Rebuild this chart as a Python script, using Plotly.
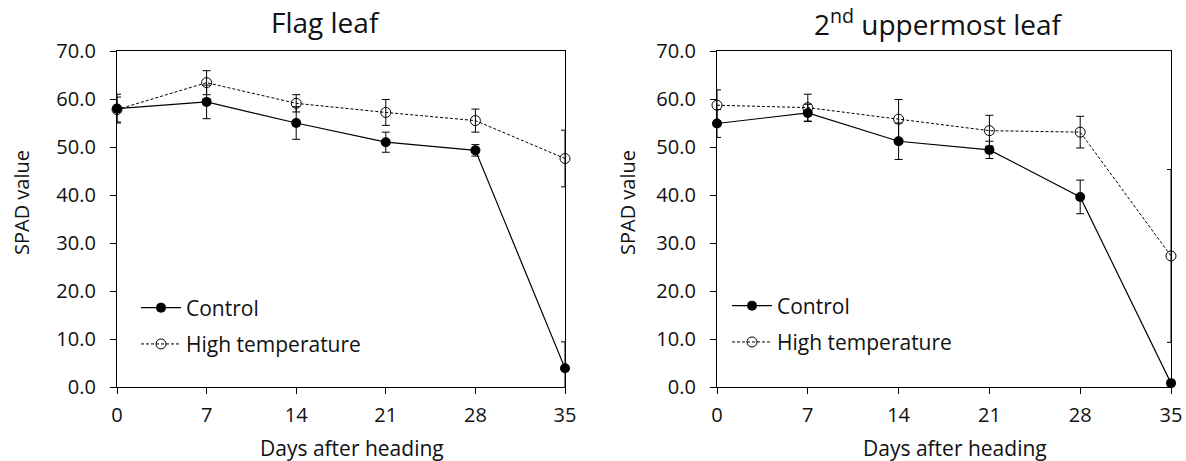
import plotly.graph_objects as go

# Sampling days after heading
days = [0, 7, 14, 21, 28, 35]
day_ticks = ["0", "7", "14", "21", "28", "35"]

# Flag leaf SPAD readings (mean and error)
flag_control = [58.0, 59.4, 55.0, 51.0, 49.3, 3.9]
flag_control_err = [3.0, 3.5, 3.4, 2.1, 1.2, 5.5]
flag_high = [57.8, 63.4, 59.1, 57.2, 55.5, 47.6]
flag_high_err = [2.6, 2.5, 1.8, 2.7, 2.4, 5.9]

# 2nd uppermost leaf SPAD readings (mean and error)
second_control = [54.9, 57.1, 51.2, 49.4, 39.6, 0.8]
second_control_err = [2.9, 1.8, 3.8, 1.8, 3.5, 0.5]
second_high = [58.7, 58.2, 55.8, 53.4, 53.1, 27.3]
second_high_err = [3.2, 2.8, 4.1, 3.2, 3.3, 18.0]

y_ticks = [0, 10, 20, 30, 40, 50, 60, 70]
titles = ["Flag leaf", "2<sup>nd</sup> uppermost leaf"]

FONT = "Open Sans"
TEXT = "#111111"
W, H = 1186, 461

fig = go.Figure()


def add_panel(xa, ya, legend, control, control_err, high, high_err):
    err_style = dict(type="data", visible=True, color="black", thickness=1, width=4)
    fig.add_trace(go.Scatter(
        x=days, y=control, name="Control", xaxis=xa, yaxis=ya, legend=legend,
        legendgroup=legend + "c", mode="lines+markers", cliponaxis=False,
        line=dict(color="black", width=1.2),
        marker=dict(symbol="circle", size=10, color="black"),
        error_y=dict(array=control_err, **err_style),
    ))
    fig.add_trace(go.Scatter(
        x=days, y=high, name="High temperature", xaxis=xa, yaxis=ya, legend=legend,
        legendgroup=legend + "h", mode="lines+markers", cliponaxis=False,
        line=dict(color="black", width=1, dash="3px,2px"),
        marker=dict(symbol="circle-open", size=10, color="black", line=dict(width=1)),
        error_y=dict(array=high_err, **err_style),
    ))


add_panel("x", "y", "legend", flag_control, flag_control_err, flag_high, flag_high_err)
add_panel("x2", "y2", "legend2", second_control, second_control_err, second_high, second_high_err)

plot_top, plot_bottom = 51, 387
ydom = [(H - plot_bottom) / H, (H - plot_top) / H]
panels = [(117, 565), (717, 1171)]

xcommon = dict(range=[0, 35], tickvals=days, ticktext=day_ticks, showgrid=False,
               zeroline=False, showline=True, linecolor="black", linewidth=1.2,
               mirror=True, ticks="outside", ticklen=6, tickcolor="black",
               tickwidth=1.2, ticklabelstandoff=4, automargin=False,
               tickfont=dict(family=FONT, size=20, color=TEXT))
ycommon = dict(range=[0, 70], tickvals=y_ticks, tickformat=".1f", showgrid=False,
               zeroline=False, showline=True, linecolor="black", linewidth=1.2,
               mirror=True, ticks="outside", ticklen=6, tickcolor="black",
               tickwidth=1.2, ticklabelstandoff=10, automargin=False,
               tickfont=dict(family=FONT, size=20, color=TEXT))
inner_ticks = dict(range=[0, 35], tickvals=days, showticklabels=False, ticks="inside",
                   ticklen=6, tickcolor="black", tickwidth=1.2, showgrid=False,
                   zeroline=False, showline=False, automargin=False)

layout = dict(
    width=W, height=H, margin=dict(l=0, r=0, t=0, b=0, pad=0, autoexpand=False),
    paper_bgcolor="white", plot_bgcolor="white", showlegend=True,
    xaxis=dict(domain=[panels[0][0] / W, panels[0][1] / W], anchor="y", **xcommon),
    yaxis=dict(domain=ydom, anchor="x", **ycommon),
    xaxis2=dict(domain=[panels[1][0] / W, panels[1][1] / W], anchor="y2", **xcommon),
    yaxis2=dict(domain=ydom, anchor="x2", **ycommon),
    # inner halves of the crossing x ticks
    xaxis3=dict(overlaying="x", anchor="y", **inner_ticks),
    xaxis4=dict(overlaying="x2", anchor="y2", **inner_ticks),
)

legend_style = dict(font=dict(family=FONT, size=21, color=TEXT), bgcolor="rgba(0,0,0,0)",
                    itemwidth=40, tracegroupgap=6, xanchor="left", yanchor="middle",
                    itemclick=False)
layout["legend"] = dict(x=136 / W, y=1 - 326 / H, **legend_style)
layout["legend2"] = dict(x=727 / W, y=1 - 324 / H, **legend_style)

fig.update_layout(**layout)

annotations = []
for title, xc in zip(titles, [325, 938]):
    annotations.append(dict(text=title, x=xc / W, y=1 - 22 / H, xref="paper", yref="paper",
                            xanchor="center", yanchor="middle", showarrow=False,
                            font=dict(family=FONT, size=28, color=TEXT)))
for xc in [352, 955]:
    annotations.append(dict(text="Days after heading", x=xc / W, y=1 - 448 / H,
                            xref="paper", yref="paper", xanchor="center", yanchor="middle",
                            showarrow=False, font=dict(family=FONT, size=21, color=TEXT)))
for xc in [22, 628]:
    annotations.append(dict(text="SPAD value", x=xc / W, y=1 - 203 / H, textangle=-90,
                            xref="paper", yref="paper", xanchor="center", yanchor="middle",
                            showarrow=False, font=dict(family=FONT, size=20, color=TEXT)))
fig.update_layout(annotations=annotations)

fig.write_html("out.html")
